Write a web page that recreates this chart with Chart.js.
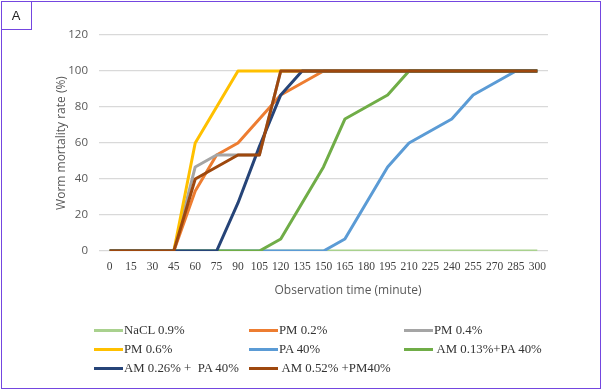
<!DOCTYPE html>
<html>
<head>
<meta charset="utf-8">
<script src="https://cdn.jsdelivr.net/npm/chart.js@4/dist/chart.umd.min.js"></script>
<style>
  html, body { margin: 0; padding: 0; background: #fff; }
  #wrap { position: relative; width: 602px; height: 390px; overflow: hidden; }
  #frame { position: absolute; left: 1px; top: 1px; width: 598px; height: 386px; border: 1px solid #7446E0; box-sizing: content-box; pointer-events: none; }
  #tag { position: absolute; left: 1px; top: 1px; width: 30px; height: 28px; border-right: 1px solid #7446E0; border-bottom: 1px solid #7446E0; font: 13px "Liberation Sans", Arial, sans-serif; color: #222; display: flex; align-items: center; justify-content: center; }
  canvas { position: absolute; left: 0; top: 0; }
  #xtitle { position: absolute; left: 248px; width: 200px; top: 281px; text-align: center; font: 12px "Open Sans", "Liberation Sans", sans-serif; color: #595959; white-space: pre; }
  .lg { position: absolute; display: flex; align-items: center; font: 12.8px "Liberation Serif", "Times New Roman", serif; color: #333; white-space: pre; }
  .lg span.ln { display: inline-block; width: 29px; height: 3px; margin-right: 1px; }
</style>
</head>
<body>
<div id="wrap">
  <canvas id="c" width="602" height="390"></canvas>
  <div id="frame"></div>
  <div id="tag">A</div>
  <div id="xtitle"></div>
  <div id="legend"></div>
</div>
<script>
const categories = ['0','15','30','45','60','75','90','105','120','135','150','165','180','195','210','225','240','255','270','285','300'];
const yTicks = [0, 20, 40, 60, 80, 100, 120];
const xTitle = 'Observation time (minute)';
const yTitle = 'Worm mortality rate (%)';
const seriesNames = ['NaCL 0.9%', 'PM 0.2%', 'PM 0.4%', 'PM 0.6%', 'PA 40%', ' AM 0.13%+PA 40%', 'AM 0.26% +  PA 40%', ' AM 0.52% +PM40%'];
const seriesColors = ['#A9D18E', '#ED7D31', '#A5A5A5', '#FFC000', '#5B9BD5', '#70AD47', '#264478', '#9E480E'];

const nacl09   = [0,0,0,0,0,0,0,0,0,0,0,0,0,0,0,0,0,0,0,0,0];
const pm02     = [0,0,0,0,33.3,53.3,60,73.3,86.7,93.3,100,100,100,100,100,100,100,100,100,100,100];
const pm04     = [0,0,0,0,46.7,53.3,53.3,53.3,100,100,100,100,100,100,100,100,100,100,100,100,100];
const pm06     = [0,0,0,0,60,80,100,100,100,100,100,100,100,100,100,100,100,100,100,100,100];
const pa40     = [0,0,0,0,0,0,0,0,0,0,0,6.7,26.7,46.7,60,66.7,73.3,86.7,93.3,100,100];
const am013pa  = [0,0,0,0,0,0,0,0,6.7,26.7,46.7,73.3,80,86.7,100,100,100,100,100,100,100];
const am026pa  = [0,0,0,0,0,0,26.7,58,86.7,100,100,100,100,100,100,100,100,100,100,100,100];
const am052pm  = [0,0,0,0,40,46.7,53.3,53.3,100,100,100,100,100,100,100,100,100,100,100,100,100];

const seriesValues = [nacl09, pm02, pm04, pm06, pa40, am013pa, am026pa, am052pm];

const datasets = seriesValues.map((vals, i) => ({
  label: seriesNames[i],
  data: vals,
  borderColor: seriesColors[i],
  backgroundColor: seriesColors[i],
  borderWidth: 3,
  pointRadius: 0,
  tension: 0,
  fill: false,
  order: seriesValues.length - i,
  borderCapStyle: 'butt',
  borderJoinStyle: 'round'
}));

const chart = new Chart(document.getElementById('c'), {
  type: 'line',
  data: { labels: categories, datasets },
  options: {
    responsive: false,
    animation: false,
    devicePixelRatio: 1,
    layout: { padding: { left: 50, right: 54, top: 35, bottom: 89 } },
    plugins: { legend: { display: false }, tooltip: { enabled: false } },
    scales: {
      x: {
        type: 'category',
        offset: true,
        grid: { display: false, drawTicks: false },
        border: { display: false },
        ticks: { color: '#404040', font: { family: '"Liberation Serif", "Times New Roman", serif', size: 11.5 }, padding: 9, maxRotation: 0, autoSkip: false },
        title: { display: false },
        afterFit: (s) => { s.height = 50; }
      },
      y: {
        min: 0, max: 120,
        afterBuildTicks: (s) => { s.ticks = yTicks.map(v => ({ value: v })); },
        grid: { color: '#D9D9D9', lineWidth: 1.3, drawTicks: false },
        border: { display: false },
        ticks: { color: '#595959', font: { family: '"Open Sans", "Liberation Sans", sans-serif', size: 11.5 }, padding: 11 },
        title: { display: true, text: yTitle, color: '#595959', font: { family: '"Open Sans", "Liberation Sans", sans-serif', size: 12 }, padding: { top: 4, bottom: 4 } },
        afterFit: (s) => { s.width = 49; }
      }
    }
  }
});

document.getElementById('xtitle').textContent = xTitle;

// HTML legend built from the chart's datasets, laid out in 3 columns
const legendCols = [94, 249, 404];
const legendRows = [330, 349, 368];
const legendEl = document.getElementById('legend');
chart.data.datasets.forEach((ds, i) => {
  const col = i % 3, row = Math.floor(i / 3);
  const item = document.createElement('div');
  item.className = 'lg';
  item.style.left = legendCols[col] + 'px';
  item.style.top = (legendRows[row] - 8) + 'px';
  item.style.height = '16px';
  const ln = document.createElement('span');
  ln.className = 'ln';
  ln.style.background = ds.borderColor;
  item.appendChild(ln);
  item.appendChild(document.createTextNode(ds.label));
  legendEl.appendChild(item);
});
</script>
</body>
</html>
